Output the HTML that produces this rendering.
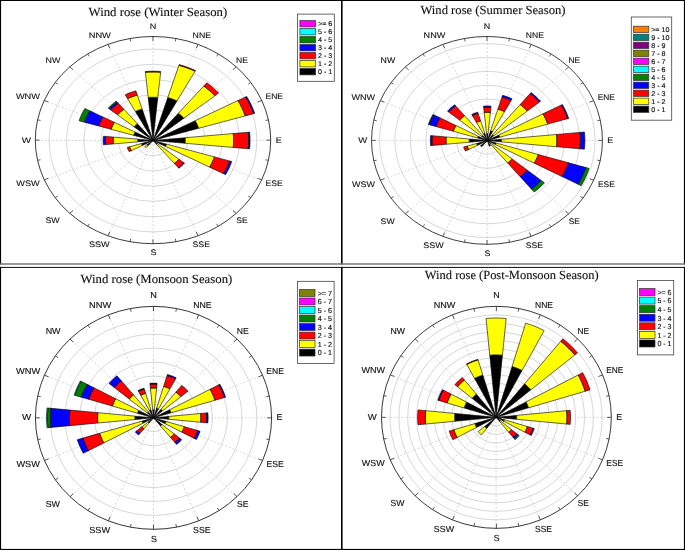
<!DOCTYPE html>
<html><head><meta charset="utf-8"><title>Wind roses</title>
<style>
html,body{margin:0;padding:0;background:#fff;}
body{width:685px;height:550px;overflow:hidden;}
svg{display:block;}
text{text-rendering:geometricPrecision;}
.ring{fill:none;stroke:#cdcdcd;stroke-width:0.8;}
.rad{stroke:#cacaca;stroke-width:0.75;stroke-dasharray:1.9 1.9;}
.outer{fill:none;stroke:#1a1a1a;stroke-width:0.85;}
.tick{stroke:#222;stroke-width:0.75;}
.bar{stroke:#000;stroke-width:0.6;stroke-linejoin:miter;}
.lab{font-family:"Liberation Sans",sans-serif;font-size:8.1px;fill:#111;stroke:#111;stroke-width:0.12;}
.title{font-family:"Liberation Serif",serif;font-size:12.4px;fill:#111;stroke:#111;stroke-width:0.12;}
.lbox{fill:#fff;stroke:#444;stroke-width:0.8;}
.sw{stroke:#333;stroke-width:0.7;}
.lt{font-family:"Liberation Sans",sans-serif;fill:#111;stroke:#111;stroke-width:0.15;}
</style></head><body>
<svg width="685" height="550" viewBox="0 0 685 550">
<rect x="0" y="0" width="685" height="550" fill="#fff"/>
<g opacity="0.999">
<g transform="translate(153,140.1) scale(1.0000,1.0000)">
<g transform="translate(0,0.4)">
<ellipse rx="17.31" ry="15.24" class="ring"/>
<ellipse rx="34.62" ry="30.47" class="ring"/>
<ellipse rx="51.93" ry="45.71" class="ring"/>
<ellipse rx="69.24" ry="60.94" class="ring"/>
<ellipse rx="86.54" ry="76.18" class="ring"/>
<ellipse rx="103.85" ry="91.41" class="ring"/>
<line x1="0" y1="0" x2="0" y2="-103.6" class="rad"/>
<line x1="0" y1="0" x2="45.04" y2="-95.71" class="rad"/>
<line x1="0" y1="0" x2="83.23" y2="-73.26" class="rad"/>
<line x1="0" y1="0" x2="108.74" y2="-39.65" class="rad"/>
<line x1="0" y1="0" x2="117.7" y2="-0" class="rad"/>
<line x1="0" y1="0" x2="108.74" y2="39.65" class="rad"/>
<line x1="0" y1="0" x2="83.23" y2="73.26" class="rad"/>
<line x1="0" y1="0" x2="45.04" y2="95.71" class="rad"/>
<line x1="0" y1="0" x2="0" y2="103.6" class="rad"/>
<line x1="0" y1="0" x2="-45.04" y2="95.71" class="rad"/>
<line x1="0" y1="0" x2="-83.23" y2="73.26" class="rad"/>
<line x1="0" y1="0" x2="-108.74" y2="39.65" class="rad"/>
<line x1="0" y1="0" x2="-117.7" y2="0" class="rad"/>
<line x1="0" y1="0" x2="-108.74" y2="-39.65" class="rad"/>
<line x1="0" y1="0" x2="-83.23" y2="-73.26" class="rad"/>
<line x1="0" y1="0" x2="-45.04" y2="-95.71" class="rad"/>
</g>
<ellipse rx="117.7" ry="103.6" class="outer"/>
<line x1="0" y1="-103.6" x2="0" y2="-99.3" class="tick"/>
<line x1="22.96" y1="-101.61" x2="22.3" y2="-98.68" class="tick"/>
<line x1="45.04" y1="-95.71" x2="43.21" y2="-91.82" class="tick"/>
<line x1="65.39" y1="-86.14" x2="63.58" y2="-83.75" class="tick"/>
<line x1="83.23" y1="-73.26" x2="80" y2="-70.42" class="tick"/>
<line x1="97.86" y1="-57.56" x2="95.28" y2="-56.04" class="tick"/>
<line x1="108.74" y1="-39.65" x2="104.7" y2="-38.17" class="tick"/>
<line x1="115.44" y1="-20.21" x2="112.48" y2="-19.69" class="tick"/>
<line x1="117.7" y1="-0" x2="113.4" y2="-0" class="tick"/>
<line x1="115.44" y1="20.21" x2="112.48" y2="19.69" class="tick"/>
<line x1="108.74" y1="39.65" x2="104.7" y2="38.17" class="tick"/>
<line x1="97.86" y1="57.56" x2="95.28" y2="56.04" class="tick"/>
<line x1="83.23" y1="73.26" x2="80" y2="70.42" class="tick"/>
<line x1="65.39" y1="86.14" x2="63.58" y2="83.75" class="tick"/>
<line x1="45.04" y1="95.71" x2="43.21" y2="91.82" class="tick"/>
<line x1="22.96" y1="101.61" x2="22.3" y2="98.68" class="tick"/>
<line x1="0" y1="103.6" x2="0" y2="99.3" class="tick"/>
<line x1="-22.96" y1="101.61" x2="-22.3" y2="98.68" class="tick"/>
<line x1="-45.04" y1="95.71" x2="-43.21" y2="91.82" class="tick"/>
<line x1="-65.39" y1="86.14" x2="-63.58" y2="83.75" class="tick"/>
<line x1="-83.23" y1="73.26" x2="-80" y2="70.42" class="tick"/>
<line x1="-97.86" y1="57.56" x2="-95.28" y2="56.04" class="tick"/>
<line x1="-108.74" y1="39.65" x2="-104.7" y2="38.17" class="tick"/>
<line x1="-115.44" y1="20.21" x2="-112.48" y2="19.69" class="tick"/>
<line x1="-117.7" y1="0" x2="-113.4" y2="0" class="tick"/>
<line x1="-115.44" y1="-20.21" x2="-112.48" y2="-19.69" class="tick"/>
<line x1="-108.74" y1="-39.65" x2="-104.7" y2="-38.17" class="tick"/>
<line x1="-97.86" y1="-57.56" x2="-95.28" y2="-56.04" class="tick"/>
<line x1="-83.23" y1="-73.26" x2="-80" y2="-70.42" class="tick"/>
<line x1="-65.39" y1="-86.14" x2="-63.58" y2="-83.75" class="tick"/>
<line x1="-45.04" y1="-95.71" x2="-43.21" y2="-91.82" class="tick"/>
<line x1="-22.96" y1="-101.61" x2="-22.3" y2="-98.68" class="tick"/>
<g transform="translate(0,0.4)">
<polygon points="-4.82,-43.06 -2.41,-43.22 0,-43.27 2.41,-43.22 4.82,-43.06 0,0" fill="#000000" class="bar"/>
<polygon points="-7.63,-68.23 -3.82,-68.48 0,-68.56 3.82,-68.48 7.63,-68.23 4.82,-43.06 2.41,-43.22 0,-43.27 -2.41,-43.22 -4.82,-43.06" fill="#ffff00" class="bar"/>
<polygon points="-7.72,-68.99 -3.86,-69.24 0,-69.32 3.86,-69.24 7.72,-68.99 7.63,-68.23 3.82,-68.48 0,-68.56 -3.82,-68.48 -7.63,-68.23" fill="#ff0000" class="bar"/>
<polygon points="14.8,-42.93 17.17,-42.24 19.5,-41.45 21.79,-40.56 24.03,-39.57 0,0" fill="#000000" class="bar"/>
<polygon points="25.9,-75.17 30.06,-73.96 34.15,-72.57 38.15,-71.01 42.07,-69.27 24.03,-39.57 21.79,-40.56 19.5,-41.45 17.17,-42.24 14.8,-42.93" fill="#ffff00" class="bar"/>
<polygon points="26.16,-75.9 30.36,-74.68 34.48,-73.28 38.53,-71.7 42.48,-69.95 42.07,-69.27 38.15,-71.01 34.15,-72.57 30.06,-73.96 25.9,-75.17" fill="#ff0000" class="bar"/>
<polygon points="25.38,-27.22 26.87,-26.09 28.29,-24.9 29.64,-23.65 30.93,-22.34 0,0" fill="#000000" class="bar"/>
<polygon points="50.76,-54.45 53.74,-52.19 56.58,-49.8 59.29,-47.3 61.86,-44.68 30.93,-22.34 29.64,-23.65 28.29,-24.9 26.87,-26.09 25.38,-27.22" fill="#ffff00" class="bar"/>
<polygon points="53.85,-57.76 57.01,-55.36 60.03,-52.84 62.9,-50.18 65.62,-47.4 61.86,-44.68 59.29,-47.3 56.58,-49.8 53.74,-52.19 50.76,-54.45" fill="#ff0000" class="bar"/>
<polygon points="42.19,-19.85 43.24,-18 44.2,-16.11 45.04,-14.19 45.78,-12.22 0,0" fill="#000000" class="bar"/>
<polygon points="84.99,-39.99 87.12,-36.27 89.03,-32.46 90.74,-28.58 92.22,-24.62 45.78,-12.22 45.04,-14.19 44.2,-16.11 43.24,-18 42.19,-19.85" fill="#ffff00" class="bar"/>
<polygon points="92.66,-43.6 94.98,-39.54 97.07,-35.39 98.93,-31.16 100.54,-26.85 92.22,-24.62 90.74,-28.58 89.03,-32.46 87.12,-36.27 84.99,-39.99" fill="#ff0000" class="bar"/>
<polygon points="93.74,-44.1 96.08,-40 98.2,-35.8 100.07,-31.52 101.71,-27.16 100.54,-26.85 98.93,-31.16 97.07,-35.39 94.98,-39.54 92.66,-43.6" fill="#0000ff" class="bar"/>
<polygon points="32.21,-2.79 32.33,-1.4 32.37,-0 32.33,1.4 32.21,2.79 0,0" fill="#000000" class="bar"/>
<polygon points="80.27,-6.96 80.56,-3.48 80.66,-0 80.56,3.48 80.27,6.96 32.21,2.79 32.33,1.4 32.37,-0 32.33,-1.4 32.21,-2.79" fill="#ffff00" class="bar"/>
<polygon points="95.26,-8.26 95.6,-4.13 95.72,-0 95.6,4.13 95.26,8.26 80.27,6.96 80.56,3.48 80.66,-0 80.56,-3.48 80.27,-6.96" fill="#ff0000" class="bar"/>
<polygon points="96.63,-8.38 96.99,-4.19 97.1,-0 96.99,4.19 96.63,8.38 95.26,8.26 95.6,4.13 95.72,-0 95.6,-4.13 95.26,-8.26" fill="#0000ff" class="bar"/>
<polygon points="13.65,3.64 13.43,4.23 13.18,4.8 12.89,5.37 12.58,5.92 0,0" fill="#000000" class="bar"/>
<polygon points="61.42,16.4 60.44,19.03 59.3,21.62 58.03,24.16 56.61,26.63 12.58,5.92 12.89,5.37 13.18,4.8 13.43,4.23 13.65,3.64" fill="#ffff00" class="bar"/>
<polygon points="76.57,20.45 75.34,23.73 73.93,26.95 72.34,30.11 70.57,33.2 56.61,26.63 58.03,24.16 59.3,21.62 60.44,19.03 61.42,16.4" fill="#ff0000" class="bar"/>
<polygon points="78.74,21.02 77.47,24.4 76.02,27.72 74.38,30.96 72.56,34.14 70.57,33.2 72.34,30.11 73.93,26.95 75.34,23.73 76.57,20.45" fill="#0000ff" class="bar"/>
<polygon points="4.44,3.21 4.25,3.39 4.06,3.57 3.86,3.74 3.64,3.91 0,0" fill="#000000" class="bar"/>
<polygon points="25.95,18.75 24.88,19.85 23.74,20.9 22.55,21.9 21.3,22.84 3.64,3.91 3.86,3.74 4.06,3.57 4.25,3.39 4.44,3.21" fill="#ffff00" class="bar"/>
<polygon points="30.93,22.34 29.64,23.65 28.29,24.9 26.87,26.09 25.38,27.22 21.3,22.84 22.55,21.9 23.74,20.9 24.88,19.85 25.95,18.75" fill="#ff0000" class="bar"/>
<polygon points="31.47,22.73 30.16,24.06 28.78,25.33 27.34,26.55 25.82,27.7 25.38,27.22 26.87,26.09 28.29,24.9 29.64,23.65 30.93,22.34" fill="#0000ff" class="bar"/>
<polygon points="-4.97,5.33 -5.26,5.11 -5.54,4.87 -5.8,4.63 -6.05,4.37 0,0" fill="#000000" class="bar"/>
<polygon points="-6.84,7.34 -7.24,7.03 -7.63,6.71 -7.99,6.38 -8.34,6.02 -6.05,4.37 -5.8,4.63 -5.54,4.87 -5.26,5.11 -4.97,5.33" fill="#ffff00" class="bar"/>
<polygon points="-10.74,5.05 -11.01,4.58 -11.25,4.1 -11.46,3.61 -11.65,3.11 0,0" fill="#000000" class="bar"/>
<polygon points="-21.63,10.18 -22.17,9.23 -22.66,8.26 -23.09,7.27 -23.47,6.27 -11.65,3.11 -11.46,3.61 -11.25,4.1 -11.01,4.58 -10.74,5.05" fill="#ffff00" class="bar"/>
<polygon points="-23.78,11.19 -24.37,10.15 -24.91,9.08 -25.39,8 -25.8,6.89 -23.47,6.27 -23.09,7.27 -22.66,8.26 -22.17,9.23 -21.63,10.18" fill="#ff0000" class="bar"/>
<polygon points="-15.33,1.33 -15.39,0.67 -15.4,0 -15.39,-0.67 -15.33,-1.33 0,0" fill="#000000" class="bar"/>
<polygon points="-39.62,3.43 -39.76,1.72 -39.81,0 -39.76,-1.72 -39.62,-3.43 -15.33,-1.33 -15.39,-0.67 -15.4,0 -15.39,0.67 -15.33,1.33" fill="#ffff00" class="bar"/>
<polygon points="-47.37,4.11 -47.54,2.06 -47.6,0 -47.54,-2.06 -47.37,-4.11 -39.62,-3.43 -39.76,-1.72 -39.81,0 -39.76,1.72 -39.62,3.43" fill="#ff0000" class="bar"/>
<polygon points="-49.61,4.3 -49.79,2.15 -49.85,0 -49.79,-2.15 -49.61,-4.3 -47.37,-4.11 -47.54,-2.06 -47.6,0 -47.54,2.06 -47.37,4.11" fill="#0000ff" class="bar"/>
<polygon points="-19.48,-5.2 -19.16,-6.04 -18.8,-6.86 -18.4,-7.66 -17.95,-8.44 0,0" fill="#000000" class="bar"/>
<polygon points="-41.95,-11.2 -41.27,-13 -40.5,-14.77 -39.63,-16.5 -38.66,-18.19 -17.95,-8.44 -18.4,-7.66 -18.8,-6.86 -19.16,-6.04 -19.48,-5.2" fill="#ffff00" class="bar"/>
<polygon points="-54.43,-14.53 -53.56,-16.87 -52.55,-19.16 -51.42,-21.41 -50.17,-23.6 -38.66,-18.19 -39.63,-16.5 -40.5,-14.77 -41.27,-13 -41.95,-11.2" fill="#ff0000" class="bar"/>
<polygon points="-68.58,-18.31 -67.48,-21.25 -66.21,-24.14 -64.79,-26.97 -63.21,-29.74 -50.17,-23.6 -51.42,-21.41 -52.55,-19.16 -53.56,-16.87 -54.43,-14.53" fill="#0000ff" class="bar"/>
<polygon points="-73.91,-19.73 -72.72,-22.9 -71.36,-26.02 -69.82,-29.07 -68.12,-32.05 -63.21,-29.74 -64.79,-26.97 -66.21,-24.14 -67.48,-21.25 -68.58,-18.31" fill="#008000" class="bar"/>
<polygon points="-19.09,-13.79 -18.3,-14.6 -17.47,-15.37 -16.59,-16.11 -15.67,-16.81 0,0" fill="#000000" class="bar"/>
<polygon points="-35.5,-25.64 -34.03,-27.15 -32.47,-28.58 -30.84,-29.95 -29.13,-31.25 -15.67,-16.81 -16.59,-16.11 -17.47,-15.37 -18.3,-14.6 -19.09,-13.79" fill="#ffff00" class="bar"/>
<polygon points="-42.36,-30.6 -40.6,-32.39 -38.75,-34.1 -36.8,-35.74 -34.76,-37.28 -29.13,-31.25 -30.84,-29.95 -32.47,-28.58 -34.03,-27.15 -35.5,-25.64" fill="#ff0000" class="bar"/>
<polygon points="-43.84,-31.67 -42.02,-33.52 -40.1,-35.3 -38.08,-36.98 -35.98,-38.59 -34.76,-37.28 -36.8,-35.74 -38.75,-34.1 -40.6,-32.39 -42.36,-30.6" fill="#0000ff" class="bar"/>
<polygon points="-44.78,-32.35 -42.92,-34.24 -40.96,-36.05 -38.9,-37.78 -36.75,-39.41 -35.98,-38.59 -38.08,-36.98 -40.1,-35.3 -42.02,-33.52 -43.84,-31.67" fill="#008000" class="bar"/>
<polygon points="-17.63,-29.03 -15.99,-29.76 -14.31,-30.41 -12.6,-31 -10.86,-31.5 0,0" fill="#000000" class="bar"/>
<polygon points="-25.42,-41.86 -23.06,-42.91 -20.64,-43.85 -18.17,-44.69 -15.65,-45.42 -10.86,-31.5 -12.6,-31 -14.31,-30.41 -15.99,-29.76 -17.63,-29.03" fill="#ffff00" class="bar"/>
<polygon points="-27.8,-45.78 -25.21,-46.92 -22.57,-47.95 -19.87,-48.87 -17.12,-49.67 -15.65,-45.42 -18.17,-44.69 -20.64,-43.85 -23.06,-42.91 -25.42,-41.86" fill="#ff0000" class="bar"/>
</g>
<text x="0.1" y="-111.6" text-anchor="middle" class="lab" textLength="6.6" lengthAdjust="spacingAndGlyphs">N</text>
<text x="39.6" y="-102.2" text-anchor="start" class="lab" textLength="18.4" lengthAdjust="spacingAndGlyphs">NNE</text>
<text x="83.1" y="-77.5" text-anchor="start" class="lab" textLength="11.9" lengthAdjust="spacingAndGlyphs">NE</text>
<text x="112.5" y="-40.9" text-anchor="start" class="lab" textLength="17.5" lengthAdjust="spacingAndGlyphs">ENE</text>
<text x="122.7" y="2.4" text-anchor="start" class="lab" textLength="6" lengthAdjust="spacingAndGlyphs">E</text>
<text x="112.6" y="45.9" text-anchor="start" class="lab" textLength="17.2" lengthAdjust="spacingAndGlyphs">ESE</text>
<text x="83.25" y="82.55" text-anchor="start" class="lab" textLength="11.4" lengthAdjust="spacingAndGlyphs">SE</text>
<text x="39.5" y="107.4" text-anchor="start" class="lab" textLength="17.5" lengthAdjust="spacingAndGlyphs">SSE</text>
<text x="0.4" y="115.2" text-anchor="middle" class="lab" textLength="6" lengthAdjust="spacingAndGlyphs">S</text>
<text x="-43.3" y="107" text-anchor="end" class="lab" textLength="20.8" lengthAdjust="spacingAndGlyphs">SSW</text>
<text x="-93.25" y="82.5" text-anchor="end" class="lab" textLength="14.3" lengthAdjust="spacingAndGlyphs">SW</text>
<text x="-113.3" y="45.8" text-anchor="end" class="lab" textLength="23.4" lengthAdjust="spacingAndGlyphs">WSW</text>
<text x="-122" y="2.4" text-anchor="end" class="lab" textLength="9.2" lengthAdjust="spacingAndGlyphs">W</text>
<text x="-113" y="-40.9" text-anchor="end" class="lab" textLength="24.1" lengthAdjust="spacingAndGlyphs">WNW</text>
<text x="-92.7" y="-77.6" text-anchor="end" class="lab" textLength="14.85" lengthAdjust="spacingAndGlyphs">NW</text>
<text x="-42.1" y="-101.9" text-anchor="end" class="lab" textLength="22.2" lengthAdjust="spacingAndGlyphs">NNW</text>
</g>
<text x="88.6" y="15.9" class="title" textLength="138.6" lengthAdjust="spacingAndGlyphs">Wind rose (Winter Season)</text>
<rect x="297.5" y="14.1" width="36.8" height="67.2" class="lbox"/>
<rect x="299.9" y="20.5" width="15.7" height="6.4" fill="#ff00ff" class="sw"/>
<text x="318" y="26.2" class="lt" style="font-size:6.9px" transform="translate(318,0) scale(1.04,1) translate(-318,0)">&gt;= 6</text>
<rect x="299.9" y="28.5" width="15.7" height="6.4" fill="#00ffff" class="sw"/>
<text x="318" y="34.2" class="lt" style="font-size:6.9px" transform="translate(318,0) scale(1.04,1) translate(-318,0)">5 - 6</text>
<rect x="299.9" y="36.5" width="15.7" height="6.4" fill="#008000" class="sw"/>
<text x="318" y="42.2" class="lt" style="font-size:6.9px" transform="translate(318,0) scale(1.04,1) translate(-318,0)">4 - 5</text>
<rect x="299.9" y="44.5" width="15.7" height="6.4" fill="#0000ff" class="sw"/>
<text x="318" y="50.2" class="lt" style="font-size:6.9px" transform="translate(318,0) scale(1.04,1) translate(-318,0)">3 - 4</text>
<rect x="299.9" y="52.5" width="15.7" height="6.4" fill="#ff0000" class="sw"/>
<text x="318" y="58.2" class="lt" style="font-size:6.9px" transform="translate(318,0) scale(1.04,1) translate(-318,0)">2 - 3</text>
<rect x="299.9" y="60.5" width="15.7" height="6.4" fill="#ffff00" class="sw"/>
<text x="318" y="66.2" class="lt" style="font-size:6.9px" transform="translate(318,0) scale(1.04,1) translate(-318,0)">1 - 2</text>
<rect x="299.9" y="68.5" width="15.7" height="6.4" fill="#000000" class="sw"/>
<text x="318" y="74.2" class="lt" style="font-size:6.9px" transform="translate(318,0) scale(1.04,1) translate(-318,0)">0 - 1</text>
<g transform="translate(487,140.4) scale(0.9809,1.0029)">
<g transform="translate(0.3,0.2)">
<ellipse rx="15.69" ry="13.81" class="ring"/>
<ellipse rx="31.39" ry="27.63" class="ring"/>
<ellipse rx="47.08" ry="41.44" class="ring"/>
<ellipse rx="62.77" ry="55.25" class="ring"/>
<ellipse rx="78.47" ry="69.07" class="ring"/>
<ellipse rx="94.16" ry="82.88" class="ring"/>
<ellipse rx="109.85" ry="96.69" class="ring"/>
<line x1="0" y1="0" x2="0" y2="-103.6" class="rad"/>
<line x1="0" y1="0" x2="45.04" y2="-95.71" class="rad"/>
<line x1="0" y1="0" x2="83.23" y2="-73.26" class="rad"/>
<line x1="0" y1="0" x2="108.74" y2="-39.65" class="rad"/>
<line x1="0" y1="0" x2="117.7" y2="-0" class="rad"/>
<line x1="0" y1="0" x2="108.74" y2="39.65" class="rad"/>
<line x1="0" y1="0" x2="83.23" y2="73.26" class="rad"/>
<line x1="0" y1="0" x2="45.04" y2="95.71" class="rad"/>
<line x1="0" y1="0" x2="0" y2="103.6" class="rad"/>
<line x1="0" y1="0" x2="-45.04" y2="95.71" class="rad"/>
<line x1="0" y1="0" x2="-83.23" y2="73.26" class="rad"/>
<line x1="0" y1="0" x2="-108.74" y2="39.65" class="rad"/>
<line x1="0" y1="0" x2="-117.7" y2="0" class="rad"/>
<line x1="0" y1="0" x2="-108.74" y2="-39.65" class="rad"/>
<line x1="0" y1="0" x2="-83.23" y2="-73.26" class="rad"/>
<line x1="0" y1="0" x2="-45.04" y2="-95.71" class="rad"/>
</g>
<ellipse rx="117.7" ry="103.6" class="outer"/>
<line x1="0" y1="-103.6" x2="0" y2="-99.3" class="tick"/>
<line x1="22.96" y1="-101.61" x2="22.3" y2="-98.68" class="tick"/>
<line x1="45.04" y1="-95.71" x2="43.21" y2="-91.82" class="tick"/>
<line x1="65.39" y1="-86.14" x2="63.58" y2="-83.75" class="tick"/>
<line x1="83.23" y1="-73.26" x2="80" y2="-70.42" class="tick"/>
<line x1="97.86" y1="-57.56" x2="95.28" y2="-56.04" class="tick"/>
<line x1="108.74" y1="-39.65" x2="104.7" y2="-38.17" class="tick"/>
<line x1="115.44" y1="-20.21" x2="112.48" y2="-19.69" class="tick"/>
<line x1="117.7" y1="-0" x2="113.4" y2="-0" class="tick"/>
<line x1="115.44" y1="20.21" x2="112.48" y2="19.69" class="tick"/>
<line x1="108.74" y1="39.65" x2="104.7" y2="38.17" class="tick"/>
<line x1="97.86" y1="57.56" x2="95.28" y2="56.04" class="tick"/>
<line x1="83.23" y1="73.26" x2="80" y2="70.42" class="tick"/>
<line x1="65.39" y1="86.14" x2="63.58" y2="83.75" class="tick"/>
<line x1="45.04" y1="95.71" x2="43.21" y2="91.82" class="tick"/>
<line x1="22.96" y1="101.61" x2="22.3" y2="98.68" class="tick"/>
<line x1="0" y1="103.6" x2="0" y2="99.3" class="tick"/>
<line x1="-22.96" y1="101.61" x2="-22.3" y2="98.68" class="tick"/>
<line x1="-45.04" y1="95.71" x2="-43.21" y2="91.82" class="tick"/>
<line x1="-65.39" y1="86.14" x2="-63.58" y2="83.75" class="tick"/>
<line x1="-83.23" y1="73.26" x2="-80" y2="70.42" class="tick"/>
<line x1="-97.86" y1="57.56" x2="-95.28" y2="56.04" class="tick"/>
<line x1="-108.74" y1="39.65" x2="-104.7" y2="38.17" class="tick"/>
<line x1="-115.44" y1="20.21" x2="-112.48" y2="19.69" class="tick"/>
<line x1="-117.7" y1="0" x2="-113.4" y2="0" class="tick"/>
<line x1="-115.44" y1="-20.21" x2="-112.48" y2="-19.69" class="tick"/>
<line x1="-108.74" y1="-39.65" x2="-104.7" y2="-38.17" class="tick"/>
<line x1="-97.86" y1="-57.56" x2="-95.28" y2="-56.04" class="tick"/>
<line x1="-83.23" y1="-73.26" x2="-80" y2="-70.42" class="tick"/>
<line x1="-65.39" y1="-86.14" x2="-63.58" y2="-83.75" class="tick"/>
<line x1="-45.04" y1="-95.71" x2="-43.21" y2="-91.82" class="tick"/>
<line x1="-22.96" y1="-101.61" x2="-22.3" y2="-98.68" class="tick"/>
<g transform="translate(0.3,0.2)">
<polygon points="-0.78,-7.01 -0.39,-7.04 0,-7.04 0.39,-7.04 0.78,-7.01 0,0" fill="#000000" class="bar"/>
<polygon points="-3.14,-28.04 -1.57,-28.15 0,-28.18 1.57,-28.15 3.14,-28.04 0.78,-7.01 0.39,-7.04 0,-7.04 -0.39,-7.04 -0.78,-7.01" fill="#ffff00" class="bar"/>
<polygon points="-3.71,-33.13 -1.86,-33.25 0,-33.29 1.86,-33.25 3.71,-33.13 3.14,-28.04 1.57,-28.15 0,-28.18 -1.57,-28.15 -3.14,-28.04" fill="#ff0000" class="bar"/>
<polygon points="-3.85,-34.37 -1.93,-34.49 0,-34.53 1.93,-34.49 3.85,-34.37 3.71,-33.13 1.86,-33.25 0,-33.29 -1.86,-33.25 -3.71,-33.13" fill="#1010a0" class="bar"/>
<polygon points="3.39,-9.83 3.93,-9.67 4.47,-9.49 4.99,-9.29 5.5,-9.06 0,0" fill="#000000" class="bar"/>
<polygon points="10.8,-31.35 12.54,-30.85 14.24,-30.27 15.91,-29.62 17.55,-28.89 5.5,-9.06 4.99,-9.29 4.47,-9.49 3.93,-9.67 3.39,-9.83" fill="#ffff00" class="bar"/>
<polygon points="14.97,-43.44 17.37,-42.74 19.74,-41.94 22.05,-41.04 24.31,-40.04 17.55,-28.89 15.91,-29.62 14.24,-30.27 12.54,-30.85 10.8,-31.35" fill="#ff0000" class="bar"/>
<polygon points="15.57,-45.17 18.07,-44.44 20.52,-43.61 22.93,-42.67 25.28,-41.63 24.31,-40.04 22.05,-41.04 19.74,-41.94 17.37,-42.74 14.97,-43.44" fill="#0000ff" class="bar"/>
<polygon points="5.5,-5.9 5.83,-5.66 6.13,-5.4 6.43,-5.13 6.71,-4.84 0,0" fill="#000000" class="bar"/>
<polygon points="33.52,-35.95 35.48,-34.46 37.36,-32.88 39.15,-31.23 40.84,-29.5 6.71,-4.84 6.43,-5.13 6.13,-5.4 5.83,-5.66 5.5,-5.9" fill="#ffff00" class="bar"/>
<polygon points="43.72,-46.9 46.29,-44.95 48.74,-42.9 51.07,-40.74 53.28,-38.49 40.84,-29.5 39.15,-31.23 37.36,-32.88 35.48,-34.46 33.52,-35.95" fill="#ff0000" class="bar"/>
<polygon points="44.62,-47.86 47.24,-45.88 49.74,-43.78 52.12,-41.58 54.38,-39.28 53.28,-38.49 51.07,-40.74 48.74,-42.9 46.29,-44.95 43.72,-46.9" fill="#0000ff" class="bar"/>
<polygon points="11.82,-5.56 12.12,-5.05 12.39,-4.52 12.62,-3.98 12.83,-3.43 0,0" fill="#000000" class="bar"/>
<polygon points="56.75,-26.7 58.17,-24.22 59.45,-21.68 60.59,-19.08 61.58,-16.44 12.83,-3.43 12.62,-3.98 12.39,-4.52 12.12,-5.05 11.82,-5.56" fill="#ffff00" class="bar"/>
<polygon points="75.53,-35.53 77.42,-32.23 79.12,-28.85 80.63,-25.4 81.95,-21.88 61.58,-16.44 60.59,-19.08 59.45,-21.68 58.17,-24.22 56.75,-26.7" fill="#ff0000" class="bar"/>
<polygon points="76.5,-35.99 78.42,-32.65 80.14,-29.22 81.67,-25.72 83.01,-22.16 81.95,-21.88 80.63,-25.4 79.12,-28.85 77.42,-32.23 75.53,-35.53" fill="#0000ff" class="bar"/>
<polygon points="14.37,-1.25 14.42,-0.62 14.44,-0 14.42,0.62 14.37,1.25 0,0" fill="#000000" class="bar"/>
<polygon points="70.59,-6.12 70.85,-3.06 70.93,-0 70.85,3.06 70.59,6.12 14.37,1.25 14.42,0.62 14.44,-0 14.42,-0.62 14.37,-1.25" fill="#ffff00" class="bar"/>
<polygon points="94.49,-8.19 94.83,-4.1 94.94,-0 94.83,4.1 94.49,8.19 70.59,6.12 70.85,3.06 70.93,-0 70.85,-3.06 70.59,-6.12" fill="#ff0000" class="bar"/>
<polygon points="99.02,-8.58 99.38,-4.3 99.5,-0 99.38,4.3 99.02,8.58 94.49,8.19 94.83,4.1 94.94,-0 94.83,-4.1 94.49,-8.19" fill="#0000ff" class="bar"/>
<polygon points="9.06,2.42 8.91,2.81 8.74,3.19 8.55,3.56 8.35,3.93 0,0" fill="#000000" class="bar"/>
<polygon points="51.92,13.86 51.08,16.09 50.13,18.28 49.05,20.42 47.85,22.51 8.35,3.93 8.55,3.56 8.74,3.19 8.91,2.81 9.06,2.42" fill="#ffff00" class="bar"/>
<polygon points="82.71,22.08 81.38,25.63 79.85,29.11 78.13,32.53 76.22,35.86 47.85,22.51 49.05,20.42 50.13,18.28 51.08,16.09 51.92,13.86" fill="#ff0000" class="bar"/>
<polygon points="100.52,26.84 98.9,31.15 97.04,35.38 94.96,39.53 92.64,43.58 76.22,35.86 78.13,32.53 79.85,29.11 81.38,25.63 82.71,22.08" fill="#0000ff" class="bar"/>
<polygon points="103.84,27.73 102.17,32.18 100.25,36.55 98.09,40.84 95.7,45.02 92.64,43.58 94.96,39.53 97.04,35.38 98.9,31.15 100.52,26.84" fill="#008000" class="bar"/>
<polygon points="3.66,2.64 3.51,2.8 3.35,2.94 3.18,3.09 3,3.22 0,0" fill="#000000" class="bar"/>
<polygon points="25.36,18.32 24.31,19.39 23.2,20.42 22.03,21.4 20.81,22.32 3,3.22 3.18,3.09 3.35,2.94 3.51,2.8 3.66,2.64" fill="#ffff00" class="bar"/>
<polygon points="40.84,29.5 39.15,31.23 37.36,32.88 35.48,34.46 33.52,35.95 20.81,22.32 22.03,21.4 23.2,20.42 24.31,19.39 25.36,18.32" fill="#ff0000" class="bar"/>
<polygon points="54.98,39.72 52.7,42.05 50.3,44.27 47.77,46.39 45.12,48.4 33.52,35.95 35.48,34.46 37.36,32.88 39.15,31.23 40.84,29.5" fill="#0000ff" class="bar"/>
<polygon points="58.28,42.1 55.86,44.56 53.31,46.92 50.63,49.17 47.83,51.3 45.12,48.4 47.77,46.39 50.3,44.27 52.7,42.05 54.98,39.72" fill="#008000" class="bar"/>
<polygon points="3.2,5.26 2.9,5.4 2.6,5.52 2.28,5.62 1.97,5.71 0,0" fill="#000000" class="bar"/>
<polygon points="-5.7,6.12 -6.04,5.86 -6.36,5.6 -6.66,5.31 -6.95,5.02 0,0" fill="#000000" class="bar"/>
<polygon points="-10.15,4.78 -10.41,4.33 -10.64,3.88 -10.84,3.41 -11.02,2.94 0,0" fill="#000000" class="bar"/>
<polygon points="-18.92,8.9 -19.39,8.07 -19.82,7.23 -20.2,6.36 -20.53,5.48 -11.02,2.94 -10.84,3.41 -10.64,3.88 -10.41,4.33 -10.15,4.78" fill="#ffff00" class="bar"/>
<polygon points="-22.26,10.47 -22.81,9.5 -23.31,8.5 -23.76,7.48 -24.15,6.45 -20.53,5.48 -20.2,6.36 -19.82,7.23 -19.39,8.07 -18.92,8.9" fill="#ff0000" class="bar"/>
<polygon points="-18.43,1.6 -18.5,0.8 -18.52,0 -18.5,-0.8 -18.43,-1.6 0,0" fill="#000000" class="bar"/>
<polygon points="-41.86,3.63 -42.01,1.82 -42.06,0 -42.01,-1.82 -41.86,-3.63 -18.43,-1.6 -18.5,-0.8 -18.52,0 -18.5,0.8 -18.43,1.6" fill="#ffff00" class="bar"/>
<polygon points="-56.07,4.86 -56.27,2.43 -56.34,0 -56.27,-2.43 -56.07,-4.86 -41.86,-3.63 -42.01,-1.82 -42.06,0 -42.01,1.82 -41.86,3.63" fill="#ff0000" class="bar"/>
<polygon points="-57.79,5.01 -58,2.51 -58.07,0 -58,-2.51 -57.79,-5.01 -56.07,-4.86 -56.27,-2.43 -56.34,0 -56.27,2.43 -56.07,4.86" fill="#0000ff" class="bar"/>
<polygon points="-10.11,-2.7 -9.95,-3.13 -9.76,-3.56 -9.55,-3.98 -9.32,-4.38 0,0" fill="#000000" class="bar"/>
<polygon points="-34.71,-9.27 -34.15,-10.76 -33.51,-12.22 -32.79,-13.65 -31.99,-15.05 -9.32,-4.38 -9.55,-3.98 -9.76,-3.56 -9.95,-3.13 -10.11,-2.7" fill="#ffff00" class="bar"/>
<polygon points="-52.37,-13.98 -51.53,-16.23 -50.56,-18.43 -49.47,-20.6 -48.27,-22.71 -31.99,-15.05 -32.79,-13.65 -33.51,-12.22 -34.15,-10.76 -34.71,-9.27" fill="#ff0000" class="bar"/>
<polygon points="-59.31,-15.84 -58.36,-18.38 -57.26,-20.88 -56.03,-23.33 -54.66,-25.72 -48.27,-22.71 -49.47,-20.6 -50.56,-18.43 -51.53,-16.23 -52.37,-13.98" fill="#0000ff" class="bar"/>
<polygon points="-60.07,-16.04 -59.1,-18.61 -57.99,-21.14 -56.75,-23.62 -55.36,-26.05 -54.66,-25.72 -56.03,-23.33 -57.26,-20.88 -58.36,-18.38 -59.31,-15.84" fill="#008000" class="bar"/>
<polygon points="-5.85,-4.23 -5.61,-4.47 -5.35,-4.71 -5.08,-4.94 -4.8,-5.15 0,0" fill="#000000" class="bar"/>
<polygon points="-28.28,-20.43 -27.11,-21.63 -25.87,-22.77 -24.57,-23.86 -23.21,-24.9 -4.8,-5.15 -5.08,-4.94 -5.35,-4.71 -5.61,-4.47 -5.85,-4.23" fill="#ffff00" class="bar"/>
<polygon points="-39.38,-28.45 -37.75,-30.11 -36.02,-31.71 -34.21,-33.22 -32.32,-34.66 -23.21,-24.9 -24.57,-23.86 -25.87,-22.77 -27.11,-21.63 -28.28,-20.43" fill="#ff0000" class="bar"/>
<polygon points="-40.6,-29.33 -38.91,-31.05 -37.14,-32.69 -35.27,-34.25 -33.32,-35.74 -32.32,-34.66 -34.21,-33.22 -36.02,-31.71 -37.75,-30.11 -39.38,-28.45" fill="#0000ff" class="bar"/>
<polygon points="-4.09,-6.73 -3.71,-6.9 -3.32,-7.05 -2.92,-7.19 -2.52,-7.31 0,0" fill="#000000" class="bar"/>
<polygon points="-11,-18.12 -9.98,-18.57 -8.93,-18.98 -7.86,-19.34 -6.78,-19.66 -2.52,-7.31 -2.92,-7.19 -3.32,-7.05 -3.71,-6.9 -4.09,-6.73" fill="#ffff00" class="bar"/>
<polygon points="-15.24,-25.1 -13.82,-25.73 -12.37,-26.29 -10.89,-26.8 -9.39,-27.23 -6.78,-19.66 -7.86,-19.34 -8.93,-18.98 -9.98,-18.57 -11,-18.12" fill="#ff0000" class="bar"/>
<polygon points="-15.84,-26.08 -14.36,-26.73 -12.86,-27.32 -11.32,-27.84 -9.75,-28.3 -9.39,-27.23 -10.89,-26.8 -12.37,-26.29 -13.82,-25.73 -15.24,-25.1" fill="#101070" class="bar"/>
</g>
<text x="0.1" y="-111.4" text-anchor="middle" class="lab" textLength="6.6" lengthAdjust="spacingAndGlyphs">N</text>
<text x="39.6" y="-102.2" text-anchor="start" class="lab" textLength="18.4" lengthAdjust="spacingAndGlyphs">NNE</text>
<text x="83.1" y="-77" text-anchor="start" class="lab" textLength="11.9" lengthAdjust="spacingAndGlyphs">NE</text>
<text x="112.91" y="-40.25" text-anchor="start" class="lab" textLength="17.5" lengthAdjust="spacingAndGlyphs">ENE</text>
<text x="122.7" y="2.4" text-anchor="start" class="lab" textLength="6" lengthAdjust="spacingAndGlyphs">E</text>
<text x="113.11" y="46.9" text-anchor="start" class="lab" textLength="17.2" lengthAdjust="spacingAndGlyphs">ESE</text>
<text x="83.25" y="83.25" text-anchor="start" class="lab" textLength="11.4" lengthAdjust="spacingAndGlyphs">SE</text>
<text x="39.5" y="107.7" text-anchor="start" class="lab" textLength="17.5" lengthAdjust="spacingAndGlyphs">SSE</text>
<text x="0.4" y="115.2" text-anchor="middle" class="lab" textLength="6" lengthAdjust="spacingAndGlyphs">S</text>
<text x="-44.22" y="107.3" text-anchor="end" class="lab" textLength="20.8" lengthAdjust="spacingAndGlyphs">SSW</text>
<text x="-94.17" y="83.2" text-anchor="end" class="lab" textLength="14.3" lengthAdjust="spacingAndGlyphs">SW</text>
<text x="-114.32" y="46.8" text-anchor="end" class="lab" textLength="23.4" lengthAdjust="spacingAndGlyphs">WSW</text>
<text x="-122" y="2.4" text-anchor="end" class="lab" textLength="9.2" lengthAdjust="spacingAndGlyphs">W</text>
<text x="-114.02" y="-40.25" text-anchor="end" class="lab" textLength="24.1" lengthAdjust="spacingAndGlyphs">WNW</text>
<text x="-93.62" y="-77.1" text-anchor="end" class="lab" textLength="14.85" lengthAdjust="spacingAndGlyphs">NW</text>
<text x="-42.41" y="-101.9" text-anchor="end" class="lab" textLength="22.2" lengthAdjust="spacingAndGlyphs">NNW</text>
</g>
<text x="420.4" y="13.7" class="title" textLength="145.1" lengthAdjust="spacingAndGlyphs">Wind rose (Summer Season)</text>
<rect x="631.3" y="17" width="40.4" height="103.2" class="lbox"/>
<rect x="633.5" y="26.2" width="15.3" height="6.3" fill="#ff8000" class="sw"/>
<text x="651.2" y="31.8" class="lt" style="font-size:6.9px" transform="translate(651.2,0) scale(1.04,1) translate(-651.2,0)">&gt;= 10</text>
<rect x="633.5" y="34.19" width="15.3" height="6.3" fill="#008080" class="sw"/>
<text x="651.2" y="39.79" class="lt" style="font-size:6.9px" transform="translate(651.2,0) scale(1.04,1) translate(-651.2,0)">9 - 10</text>
<rect x="633.5" y="42.18" width="15.3" height="6.3" fill="#800080" class="sw"/>
<text x="651.2" y="47.78" class="lt" style="font-size:6.9px" transform="translate(651.2,0) scale(1.04,1) translate(-651.2,0)">8 - 9</text>
<rect x="633.5" y="50.17" width="15.3" height="6.3" fill="#808000" class="sw"/>
<text x="651.2" y="55.77" class="lt" style="font-size:6.9px" transform="translate(651.2,0) scale(1.04,1) translate(-651.2,0)">7 - 8</text>
<rect x="633.5" y="58.16" width="15.3" height="6.3" fill="#ff00ff" class="sw"/>
<text x="651.2" y="63.76" class="lt" style="font-size:6.9px" transform="translate(651.2,0) scale(1.04,1) translate(-651.2,0)">6 - 7</text>
<rect x="633.5" y="66.15" width="15.3" height="6.3" fill="#00ffff" class="sw"/>
<text x="651.2" y="71.75" class="lt" style="font-size:6.9px" transform="translate(651.2,0) scale(1.04,1) translate(-651.2,0)">5 - 6</text>
<rect x="633.5" y="74.14" width="15.3" height="6.3" fill="#008000" class="sw"/>
<text x="651.2" y="79.74" class="lt" style="font-size:6.9px" transform="translate(651.2,0) scale(1.04,1) translate(-651.2,0)">4 - 5</text>
<rect x="633.5" y="82.13" width="15.3" height="6.3" fill="#0000ff" class="sw"/>
<text x="651.2" y="87.73" class="lt" style="font-size:6.9px" transform="translate(651.2,0) scale(1.04,1) translate(-651.2,0)">3 - 4</text>
<rect x="633.5" y="90.12" width="15.3" height="6.3" fill="#ff0000" class="sw"/>
<text x="651.2" y="95.72" class="lt" style="font-size:6.9px" transform="translate(651.2,0) scale(1.04,1) translate(-651.2,0)">2 - 3</text>
<rect x="633.5" y="98.11" width="15.3" height="6.3" fill="#ffff00" class="sw"/>
<text x="651.2" y="103.71" class="lt" style="font-size:6.9px" transform="translate(651.2,0) scale(1.04,1) translate(-651.2,0)">1 - 2</text>
<rect x="633.5" y="106.1" width="15.3" height="6.3" fill="#000000" class="sw"/>
<text x="651.2" y="111.7" class="lt" style="font-size:6.9px" transform="translate(651.2,0) scale(1.04,1) translate(-651.2,0)">0 - 1</text>
<g transform="translate(153.5,417.85) scale(1.0030,1.0758)">
<g transform="translate(0,0)">
<ellipse rx="14.71" ry="12.95" class="ring"/>
<ellipse rx="29.43" ry="25.9" class="ring"/>
<ellipse rx="44.14" ry="38.85" class="ring"/>
<ellipse rx="58.85" ry="51.8" class="ring"/>
<ellipse rx="73.56" ry="64.75" class="ring"/>
<ellipse rx="88.28" ry="77.7" class="ring"/>
<ellipse rx="102.99" ry="90.65" class="ring"/>
<line x1="0" y1="0" x2="0" y2="-103.6" class="rad"/>
<line x1="0" y1="0" x2="45.04" y2="-95.71" class="rad"/>
<line x1="0" y1="0" x2="83.23" y2="-73.26" class="rad"/>
<line x1="0" y1="0" x2="108.74" y2="-39.65" class="rad"/>
<line x1="0" y1="0" x2="117.7" y2="-0" class="rad"/>
<line x1="0" y1="0" x2="108.74" y2="39.65" class="rad"/>
<line x1="0" y1="0" x2="83.23" y2="73.26" class="rad"/>
<line x1="0" y1="0" x2="45.04" y2="95.71" class="rad"/>
<line x1="0" y1="0" x2="0" y2="103.6" class="rad"/>
<line x1="0" y1="0" x2="-45.04" y2="95.71" class="rad"/>
<line x1="0" y1="0" x2="-83.23" y2="73.26" class="rad"/>
<line x1="0" y1="0" x2="-108.74" y2="39.65" class="rad"/>
<line x1="0" y1="0" x2="-117.7" y2="0" class="rad"/>
<line x1="0" y1="0" x2="-108.74" y2="-39.65" class="rad"/>
<line x1="0" y1="0" x2="-83.23" y2="-73.26" class="rad"/>
<line x1="0" y1="0" x2="-45.04" y2="-95.71" class="rad"/>
</g>
<ellipse rx="117.7" ry="103.6" class="outer"/>
<line x1="0" y1="-103.6" x2="0" y2="-99.3" class="tick"/>
<line x1="22.96" y1="-101.61" x2="22.3" y2="-98.68" class="tick"/>
<line x1="45.04" y1="-95.71" x2="43.21" y2="-91.82" class="tick"/>
<line x1="65.39" y1="-86.14" x2="63.58" y2="-83.75" class="tick"/>
<line x1="83.23" y1="-73.26" x2="80" y2="-70.42" class="tick"/>
<line x1="97.86" y1="-57.56" x2="95.28" y2="-56.04" class="tick"/>
<line x1="108.74" y1="-39.65" x2="104.7" y2="-38.17" class="tick"/>
<line x1="115.44" y1="-20.21" x2="112.48" y2="-19.69" class="tick"/>
<line x1="117.7" y1="-0" x2="113.4" y2="-0" class="tick"/>
<line x1="115.44" y1="20.21" x2="112.48" y2="19.69" class="tick"/>
<line x1="108.74" y1="39.65" x2="104.7" y2="38.17" class="tick"/>
<line x1="97.86" y1="57.56" x2="95.28" y2="56.04" class="tick"/>
<line x1="83.23" y1="73.26" x2="80" y2="70.42" class="tick"/>
<line x1="65.39" y1="86.14" x2="63.58" y2="83.75" class="tick"/>
<line x1="45.04" y1="95.71" x2="43.21" y2="91.82" class="tick"/>
<line x1="22.96" y1="101.61" x2="22.3" y2="98.68" class="tick"/>
<line x1="0" y1="103.6" x2="0" y2="99.3" class="tick"/>
<line x1="-22.96" y1="101.61" x2="-22.3" y2="98.68" class="tick"/>
<line x1="-45.04" y1="95.71" x2="-43.21" y2="91.82" class="tick"/>
<line x1="-65.39" y1="86.14" x2="-63.58" y2="83.75" class="tick"/>
<line x1="-83.23" y1="73.26" x2="-80" y2="70.42" class="tick"/>
<line x1="-97.86" y1="57.56" x2="-95.28" y2="56.04" class="tick"/>
<line x1="-108.74" y1="39.65" x2="-104.7" y2="38.17" class="tick"/>
<line x1="-115.44" y1="20.21" x2="-112.48" y2="19.69" class="tick"/>
<line x1="-117.7" y1="0" x2="-113.4" y2="0" class="tick"/>
<line x1="-115.44" y1="-20.21" x2="-112.48" y2="-19.69" class="tick"/>
<line x1="-108.74" y1="-39.65" x2="-104.7" y2="-38.17" class="tick"/>
<line x1="-97.86" y1="-57.56" x2="-95.28" y2="-56.04" class="tick"/>
<line x1="-83.23" y1="-73.26" x2="-80" y2="-70.42" class="tick"/>
<line x1="-65.39" y1="-86.14" x2="-63.58" y2="-83.75" class="tick"/>
<line x1="-45.04" y1="-95.71" x2="-43.21" y2="-91.82" class="tick"/>
<line x1="-22.96" y1="-101.61" x2="-22.3" y2="-98.68" class="tick"/>
<g transform="translate(0,0)">
<polygon points="-0.84,-7.47 -0.42,-7.5 0,-7.51 0.42,-7.5 0.84,-7.47 0,0" fill="#000000" class="bar"/>
<polygon points="-3.09,-27.58 -1.54,-27.68 0,-27.71 1.54,-27.68 3.09,-27.58 0.84,-7.47 0.42,-7.5 0,-7.51 -0.42,-7.5 -0.84,-7.47" fill="#ffff00" class="bar"/>
<polygon points="-3.5,-31.32 -1.75,-31.43 0,-31.47 1.75,-31.43 3.5,-31.32 3.09,-27.58 1.54,-27.68 0,-27.71 -1.54,-27.68 -3.09,-27.58" fill="#ff0000" class="bar"/>
<polygon points="-3.59,-32.09 -1.8,-32.21 0,-32.25 1.8,-32.21 3.59,-32.09 3.5,-31.32 1.75,-31.43 0,-31.47 -1.75,-31.43 -3.5,-31.32" fill="#101030" class="bar"/>
<polygon points="3.13,-9.09 3.64,-8.95 4.13,-8.78 4.61,-8.59 5.09,-8.38 0,0" fill="#000000" class="bar"/>
<polygon points="10.09,-29.27 11.71,-28.8 13.3,-28.26 14.86,-27.65 16.38,-26.97 5.09,-8.38 4.61,-8.59 4.13,-8.78 3.64,-8.95 3.13,-9.09" fill="#ffff00" class="bar"/>
<polygon points="13.56,-39.36 15.74,-38.72 17.88,-38 19.98,-37.18 22.03,-36.27 16.38,-26.97 14.86,-27.65 13.3,-28.26 11.71,-28.8 10.09,-29.27" fill="#ff0000" class="bar"/>
<polygon points="13.91,-40.35 16.14,-39.7 18.33,-38.96 20.48,-38.12 22.58,-37.19 22.03,-36.27 19.98,-37.18 17.88,-38 15.74,-38.72 13.56,-39.36" fill="#0000ff" class="bar"/>
<polygon points="7.5,-8.05 7.94,-7.71 8.36,-7.36 8.76,-6.99 9.14,-6.61 0,0" fill="#000000" class="bar"/>
<polygon points="22.32,-23.94 23.63,-22.95 24.88,-21.9 26.07,-20.8 27.2,-19.65 9.14,-6.61 8.76,-6.99 8.36,-7.36 7.94,-7.71 7.5,-8.05" fill="#ffff00" class="bar"/>
<polygon points="28.14,-30.18 29.79,-28.93 31.37,-27.61 32.87,-26.22 34.29,-24.77 27.2,-19.65 26.07,-20.8 24.88,-21.9 23.63,-22.95 22.32,-23.94" fill="#ff0000" class="bar"/>
<polygon points="16.17,-7.61 16.57,-6.9 16.94,-6.18 17.26,-5.44 17.55,-4.68 0,0" fill="#000000" class="bar"/>
<polygon points="56.46,-26.57 57.88,-24.09 59.15,-21.57 60.28,-18.99 61.27,-16.36 17.55,-4.68 17.26,-5.44 16.94,-6.18 16.57,-6.9 16.17,-7.61" fill="#ffff00" class="bar"/>
<polygon points="65.2,-30.68 66.83,-27.82 68.3,-24.9 69.61,-21.92 70.75,-18.89 61.27,-16.36 60.28,-18.99 59.15,-21.57 57.88,-24.09 56.46,-26.57" fill="#ff0000" class="bar"/>
<polygon points="66.24,-31.17 67.9,-28.27 69.4,-25.3 70.72,-22.27 71.88,-19.19 70.75,-18.89 69.61,-21.92 68.3,-24.9 66.83,-27.82 65.2,-30.68" fill="#0000ff" class="bar"/>
<polygon points="15.23,-1.32 15.28,-0.66 15.3,-0 15.28,0.66 15.23,1.32 0,0" fill="#000000" class="bar"/>
<polygon points="47,-4.07 47.17,-2.04 47.23,-0 47.17,2.04 47,4.07 15.23,1.32 15.28,0.66 15.3,-0 15.28,-0.66 15.23,-1.32" fill="#ffff00" class="bar"/>
<polygon points="52.71,-4.57 52.9,-2.29 52.97,-0 52.9,2.29 52.71,4.57 47,4.07 47.17,2.04 47.23,-0 47.17,-2.04 47,-4.07" fill="#ff0000" class="bar"/>
<polygon points="54.17,-4.7 54.37,-2.35 54.44,-0 54.37,2.35 54.17,4.7 52.71,4.57 52.9,2.29 52.97,-0 52.9,-2.29 52.71,-4.57" fill="#0000ff" class="bar"/>
<polygon points="12.59,3.36 12.39,3.9 12.16,4.43 11.9,4.95 11.61,5.46 0,0" fill="#000000" class="bar"/>
<polygon points="30.7,8.2 30.21,9.51 29.64,10.81 29.01,12.08 28.3,13.31 11.61,5.46 11.9,4.95 12.16,4.43 12.39,3.9 12.59,3.36" fill="#ffff00" class="bar"/>
<polygon points="44,11.75 43.3,13.64 42.48,15.49 41.57,17.31 40.55,19.08 28.3,13.31 29.01,12.08 29.64,10.81 30.21,9.51 30.7,8.2" fill="#ff0000" class="bar"/>
<polygon points="46.41,12.39 45.66,14.38 44.81,16.34 43.84,18.25 42.77,20.12 40.55,19.08 41.57,17.31 42.48,15.49 43.3,13.64 44,11.75" fill="#0000ff" class="bar"/>
<polygon points="8.57,6.19 8.22,6.56 7.84,6.9 7.45,7.23 7.04,7.55 0,0" fill="#000000" class="bar"/>
<polygon points="20.57,14.86 19.72,15.73 18.82,16.57 17.87,17.36 16.88,18.11 7.04,7.55 7.45,7.23 7.84,6.9 8.22,6.56 8.57,6.19" fill="#ffff00" class="bar"/>
<polygon points="25.95,18.74 24.87,19.84 23.73,20.89 22.54,21.89 21.29,22.84 16.88,18.11 17.87,17.36 18.82,16.57 19.72,15.73 20.57,14.86" fill="#ff0000" class="bar"/>
<polygon points="28.12,20.31 26.95,21.5 25.72,22.64 24.43,23.72 23.08,24.75 21.29,22.84 22.54,21.89 23.73,20.89 24.87,19.84 25.95,18.74" fill="#0000ff" class="bar"/>
<polygon points="-4.41,4.73 -4.67,4.53 -4.91,4.33 -5.15,4.11 -5.37,3.88 0,0" fill="#000000" class="bar"/>
<polygon points="-9.47,10.16 -10.03,9.74 -10.56,9.29 -11.07,8.83 -11.54,8.34 -5.37,3.88 -5.15,4.11 -4.91,4.33 -4.67,4.53 -4.41,4.73" fill="#ffff00" class="bar"/>
<polygon points="-13.51,14.49 -14.3,13.89 -15.06,13.25 -15.78,12.59 -16.46,11.89 -11.54,8.34 -11.07,8.83 -10.56,9.29 -10.03,9.74 -9.47,10.16" fill="#ff0000" class="bar"/>
<polygon points="-14.91,16 -15.79,15.33 -16.62,14.63 -17.42,13.9 -18.17,13.13 -16.46,11.89 -15.78,12.59 -15.06,13.25 -14.3,13.89 -13.51,14.49" fill="#0000ff" class="bar"/>
<polygon points="-10.56,4.97 -10.83,4.51 -11.07,4.03 -11.28,3.55 -11.46,3.06 0,0" fill="#000000" class="bar"/>
<polygon points="-49.55,23.31 -50.79,21.15 -51.91,18.93 -52.9,16.66 -53.77,14.36 -11.46,3.06 -11.28,3.55 -11.07,4.03 -10.83,4.51 -10.56,4.97" fill="#ffff00" class="bar"/>
<polygon points="-64.94,30.55 -66.56,27.71 -68.03,24.8 -69.33,21.83 -70.46,18.81 -53.77,14.36 -52.9,16.66 -51.91,18.93 -50.79,21.15 -49.55,23.31" fill="#ff0000" class="bar"/>
<polygon points="-70.03,32.95 -71.78,29.88 -73.36,26.75 -74.76,23.54 -75.98,20.29 -70.46,18.81 -69.33,21.83 -68.03,24.8 -66.56,27.71 -64.94,30.55" fill="#0000ff" class="bar"/>
<polygon points="-18.45,1.6 -18.52,0.8 -18.54,0 -18.52,-0.8 -18.45,-1.6 0,0" fill="#000000" class="bar"/>
<polygon points="-55.49,4.81 -55.69,2.41 -55.76,0 -55.69,-2.41 -55.49,-4.81 -18.45,-1.6 -18.52,-0.8 -18.54,0 -18.52,0.8 -18.45,1.6" fill="#ffff00" class="bar"/>
<polygon points="-83.46,7.24 -83.76,3.62 -83.86,0 -83.76,-3.62 -83.46,-7.24 -55.49,-4.81 -55.69,-2.41 -55.76,0 -55.69,2.41 -55.49,4.81" fill="#ff0000" class="bar"/>
<polygon points="-102.35,8.87 -102.72,4.44 -102.84,0 -102.72,-4.44 -102.35,-8.87 -83.46,-7.24 -83.76,-3.62 -83.86,0 -83.76,3.62 -83.46,7.24" fill="#0000ff" class="bar"/>
<polygon points="-105.27,9.13 -105.66,4.57 -105.78,0 -105.66,-4.57 -105.27,-9.13 -102.35,-8.87 -102.72,-4.44 -102.84,0 -102.72,4.44 -102.35,8.87" fill="#008000" class="bar"/>
<polygon points="-106.15,9.2 -106.54,4.61 -106.67,0 -106.54,-4.61 -106.15,-9.2 -105.27,-9.13 -105.66,-4.57 -105.78,0 -105.66,4.57 -105.27,9.13" fill="#00ffff" class="bar"/>
<polygon points="-15.99,-4.27 -15.73,-4.95 -15.44,-5.63 -15.1,-6.29 -14.74,-6.93 0,0" fill="#000000" class="bar"/>
<polygon points="-41.03,-10.96 -40.37,-12.72 -39.62,-14.44 -38.76,-16.14 -37.82,-17.79 -14.74,-6.93 -15.1,-6.29 -15.44,-5.63 -15.73,-4.95 -15.99,-4.27" fill="#ffff00" class="bar"/>
<polygon points="-64.52,-17.23 -63.48,-19.99 -62.29,-22.71 -60.95,-25.37 -59.46,-27.98 -37.82,-17.79 -38.76,-16.14 -39.62,-14.44 -40.37,-12.72 -41.03,-10.96" fill="#ff0000" class="bar"/>
<polygon points="-72.02,-19.23 -70.86,-22.32 -69.53,-25.35 -68.04,-28.32 -66.37,-31.23 -59.46,-27.98 -60.95,-25.37 -62.29,-22.71 -63.48,-19.99 -64.52,-17.23" fill="#0000ff" class="bar"/>
<polygon points="-78.39,-20.93 -77.13,-24.29 -75.68,-27.59 -74.05,-30.83 -72.24,-33.99 -66.37,-31.23 -68.04,-28.32 -69.53,-25.35 -70.86,-22.32 -72.02,-19.23" fill="#008000" class="bar"/>
<polygon points="-79.1,-21.12 -77.82,-24.51 -76.36,-27.84 -74.72,-31.11 -72.89,-34.3 -72.24,-33.99 -74.05,-30.83 -75.68,-27.59 -77.13,-24.29 -78.39,-20.93" fill="#00ffff" class="bar"/>
<polygon points="-6.29,-4.54 -6.03,-4.81 -5.75,-5.06 -5.46,-5.3 -5.16,-5.53 0,0" fill="#000000" class="bar"/>
<polygon points="-24.23,-17.5 -23.23,-18.53 -22.17,-19.51 -21.05,-20.44 -19.89,-21.33 -5.16,-5.53 -5.46,-5.3 -5.75,-5.06 -6.03,-4.81 -6.29,-4.54" fill="#ffff00" class="bar"/>
<polygon points="-39.09,-28.24 -37.47,-29.89 -35.76,-31.47 -33.96,-32.98 -32.08,-34.41 -19.89,-21.33 -21.05,-20.44 -22.17,-19.51 -23.23,-18.53 -24.23,-17.5" fill="#ff0000" class="bar"/>
<polygon points="-44.35,-32.04 -42.51,-33.91 -40.57,-35.71 -38.53,-37.42 -36.4,-39.03 -32.08,-34.41 -33.96,-32.98 -35.76,-31.47 -37.47,-29.89 -39.09,-28.24" fill="#0000ff" class="bar"/>
<polygon points="-4.18,-6.89 -3.79,-7.06 -3.4,-7.21 -2.99,-7.35 -2.58,-7.47 0,0" fill="#000000" class="bar"/>
<polygon points="-12.76,-21 -11.57,-21.53 -10.35,-22 -9.12,-22.42 -7.85,-22.79 -2.58,-7.47 -2.99,-7.35 -3.4,-7.21 -3.79,-7.06 -4.18,-6.89" fill="#ffff00" class="bar"/>
<polygon points="-14.99,-24.68 -13.59,-25.3 -12.17,-25.85 -10.71,-26.35 -9.23,-26.78 -7.85,-22.79 -9.12,-22.42 -10.35,-22 -11.57,-21.53 -12.76,-21" fill="#ff0000" class="bar"/>
<polygon points="-15.4,-25.37 -13.97,-26 -12.51,-26.57 -11.01,-27.08 -9.49,-27.52 -9.23,-26.78 -10.71,-26.35 -12.17,-25.85 -13.59,-25.3 -14.99,-24.68" fill="#101030" class="bar"/>
</g>
<text x="0.1" y="-111.6" text-anchor="middle" class="lab" textLength="6.6" lengthAdjust="spacingAndGlyphs">N</text>
<text x="39.6" y="-102.2" text-anchor="start" class="lab" textLength="18.4" lengthAdjust="spacingAndGlyphs">NNE</text>
<text x="83.1" y="-77.5" text-anchor="start" class="lab" textLength="11.9" lengthAdjust="spacingAndGlyphs">NE</text>
<text x="112.5" y="-40.9" text-anchor="start" class="lab" textLength="17.5" lengthAdjust="spacingAndGlyphs">ENE</text>
<text x="122.7" y="2.4" text-anchor="start" class="lab" textLength="6" lengthAdjust="spacingAndGlyphs">E</text>
<text x="112.6" y="45.9" text-anchor="start" class="lab" textLength="17.2" lengthAdjust="spacingAndGlyphs">ESE</text>
<text x="83.25" y="82.55" text-anchor="start" class="lab" textLength="11.4" lengthAdjust="spacingAndGlyphs">SE</text>
<text x="39.5" y="107.4" text-anchor="start" class="lab" textLength="17.5" lengthAdjust="spacingAndGlyphs">SSE</text>
<text x="0.4" y="115.2" text-anchor="middle" class="lab" textLength="6" lengthAdjust="spacingAndGlyphs">S</text>
<text x="-43.3" y="107" text-anchor="end" class="lab" textLength="20.8" lengthAdjust="spacingAndGlyphs">SSW</text>
<text x="-93.25" y="82.5" text-anchor="end" class="lab" textLength="14.3" lengthAdjust="spacingAndGlyphs">SW</text>
<text x="-113.3" y="45.8" text-anchor="end" class="lab" textLength="23.4" lengthAdjust="spacingAndGlyphs">WSW</text>
<text x="-122" y="2.4" text-anchor="end" class="lab" textLength="9.2" lengthAdjust="spacingAndGlyphs">W</text>
<text x="-113" y="-40.9" text-anchor="end" class="lab" textLength="24.1" lengthAdjust="spacingAndGlyphs">WNW</text>
<text x="-92.7" y="-77.6" text-anchor="end" class="lab" textLength="14.85" lengthAdjust="spacingAndGlyphs">NW</text>
<text x="-42.1" y="-101.9" text-anchor="end" class="lab" textLength="22.2" lengthAdjust="spacingAndGlyphs">NNW</text>
</g>
<text x="80.4" y="283.3" class="title" textLength="151.9" lengthAdjust="spacingAndGlyphs">Wind rose (Monsoon Season)</text>
<rect x="297.4" y="281.3" width="36.7" height="82.3" class="lbox"/>
<rect x="299.5" y="289.5" width="15.5" height="6.9" fill="#808000" class="sw"/>
<text x="317.7" y="295.7" class="lt" style="font-size:7.3px" transform="translate(317.7,0) scale(0.98,1) translate(-317.7,0)">&gt;= 7</text>
<rect x="299.5" y="298.02" width="15.5" height="6.9" fill="#ff00ff" class="sw"/>
<text x="317.7" y="304.22" class="lt" style="font-size:7.3px" transform="translate(317.7,0) scale(0.98,1) translate(-317.7,0)">6 - 7</text>
<rect x="299.5" y="306.54" width="15.5" height="6.9" fill="#00ffff" class="sw"/>
<text x="317.7" y="312.74" class="lt" style="font-size:7.3px" transform="translate(317.7,0) scale(0.98,1) translate(-317.7,0)">5 - 6</text>
<rect x="299.5" y="315.06" width="15.5" height="6.9" fill="#008000" class="sw"/>
<text x="317.7" y="321.26" class="lt" style="font-size:7.3px" transform="translate(317.7,0) scale(0.98,1) translate(-317.7,0)">4 - 5</text>
<rect x="299.5" y="323.58" width="15.5" height="6.9" fill="#0000ff" class="sw"/>
<text x="317.7" y="329.78" class="lt" style="font-size:7.3px" transform="translate(317.7,0) scale(0.98,1) translate(-317.7,0)">3 - 4</text>
<rect x="299.5" y="332.1" width="15.5" height="6.9" fill="#ff0000" class="sw"/>
<text x="317.7" y="338.3" class="lt" style="font-size:7.3px" transform="translate(317.7,0) scale(0.98,1) translate(-317.7,0)">2 - 3</text>
<rect x="299.5" y="340.62" width="15.5" height="6.9" fill="#ffff00" class="sw"/>
<text x="317.7" y="346.82" class="lt" style="font-size:7.3px" transform="translate(317.7,0) scale(0.98,1) translate(-317.7,0)">1 - 2</text>
<rect x="299.5" y="349.14" width="15.5" height="6.9" fill="#000000" class="sw"/>
<text x="317.7" y="355.34" class="lt" style="font-size:7.3px" transform="translate(317.7,0) scale(0.98,1) translate(-317.7,0)">0 - 1</text>
<g transform="translate(496.4,417.35) scale(0.9762,1.0714)">
<g transform="translate(-0.3,0)">
<ellipse rx="9.05" ry="7.97" class="ring"/>
<ellipse rx="18.11" ry="15.94" class="ring"/>
<ellipse rx="27.16" ry="23.91" class="ring"/>
<ellipse rx="36.22" ry="31.88" class="ring"/>
<ellipse rx="45.27" ry="39.85" class="ring"/>
<ellipse rx="54.32" ry="47.82" class="ring"/>
<ellipse rx="63.38" ry="55.78" class="ring"/>
<ellipse rx="72.43" ry="63.75" class="ring"/>
<ellipse rx="81.48" ry="71.72" class="ring"/>
<ellipse rx="90.54" ry="79.69" class="ring"/>
<ellipse rx="99.59" ry="87.66" class="ring"/>
<ellipse rx="108.65" ry="95.63" class="ring"/>
<line x1="0" y1="0" x2="0" y2="-103.6" class="rad"/>
<line x1="0" y1="0" x2="45.04" y2="-95.71" class="rad"/>
<line x1="0" y1="0" x2="83.23" y2="-73.26" class="rad"/>
<line x1="0" y1="0" x2="108.74" y2="-39.65" class="rad"/>
<line x1="0" y1="0" x2="117.7" y2="-0" class="rad"/>
<line x1="0" y1="0" x2="108.74" y2="39.65" class="rad"/>
<line x1="0" y1="0" x2="83.23" y2="73.26" class="rad"/>
<line x1="0" y1="0" x2="45.04" y2="95.71" class="rad"/>
<line x1="0" y1="0" x2="0" y2="103.6" class="rad"/>
<line x1="0" y1="0" x2="-45.04" y2="95.71" class="rad"/>
<line x1="0" y1="0" x2="-83.23" y2="73.26" class="rad"/>
<line x1="0" y1="0" x2="-108.74" y2="39.65" class="rad"/>
<line x1="0" y1="0" x2="-117.7" y2="0" class="rad"/>
<line x1="0" y1="0" x2="-108.74" y2="-39.65" class="rad"/>
<line x1="0" y1="0" x2="-83.23" y2="-73.26" class="rad"/>
<line x1="0" y1="0" x2="-45.04" y2="-95.71" class="rad"/>
</g>
<ellipse rx="117.7" ry="103.6" class="outer"/>
<line x1="0" y1="-103.6" x2="0" y2="-99.3" class="tick"/>
<line x1="22.96" y1="-101.61" x2="22.3" y2="-98.68" class="tick"/>
<line x1="45.04" y1="-95.71" x2="43.21" y2="-91.82" class="tick"/>
<line x1="65.39" y1="-86.14" x2="63.58" y2="-83.75" class="tick"/>
<line x1="83.23" y1="-73.26" x2="80" y2="-70.42" class="tick"/>
<line x1="97.86" y1="-57.56" x2="95.28" y2="-56.04" class="tick"/>
<line x1="108.74" y1="-39.65" x2="104.7" y2="-38.17" class="tick"/>
<line x1="115.44" y1="-20.21" x2="112.48" y2="-19.69" class="tick"/>
<line x1="117.7" y1="-0" x2="113.4" y2="-0" class="tick"/>
<line x1="115.44" y1="20.21" x2="112.48" y2="19.69" class="tick"/>
<line x1="108.74" y1="39.65" x2="104.7" y2="38.17" class="tick"/>
<line x1="97.86" y1="57.56" x2="95.28" y2="56.04" class="tick"/>
<line x1="83.23" y1="73.26" x2="80" y2="70.42" class="tick"/>
<line x1="65.39" y1="86.14" x2="63.58" y2="83.75" class="tick"/>
<line x1="45.04" y1="95.71" x2="43.21" y2="91.82" class="tick"/>
<line x1="22.96" y1="101.61" x2="22.3" y2="98.68" class="tick"/>
<line x1="0" y1="103.6" x2="0" y2="99.3" class="tick"/>
<line x1="-22.96" y1="101.61" x2="-22.3" y2="98.68" class="tick"/>
<line x1="-45.04" y1="95.71" x2="-43.21" y2="91.82" class="tick"/>
<line x1="-65.39" y1="86.14" x2="-63.58" y2="83.75" class="tick"/>
<line x1="-83.23" y1="73.26" x2="-80" y2="70.42" class="tick"/>
<line x1="-97.86" y1="57.56" x2="-95.28" y2="56.04" class="tick"/>
<line x1="-108.74" y1="39.65" x2="-104.7" y2="38.17" class="tick"/>
<line x1="-115.44" y1="20.21" x2="-112.48" y2="19.69" class="tick"/>
<line x1="-117.7" y1="0" x2="-113.4" y2="0" class="tick"/>
<line x1="-115.44" y1="-20.21" x2="-112.48" y2="-19.69" class="tick"/>
<line x1="-108.74" y1="-39.65" x2="-104.7" y2="-38.17" class="tick"/>
<line x1="-97.86" y1="-57.56" x2="-95.28" y2="-56.04" class="tick"/>
<line x1="-83.23" y1="-73.26" x2="-80" y2="-70.42" class="tick"/>
<line x1="-65.39" y1="-86.14" x2="-63.58" y2="-83.75" class="tick"/>
<line x1="-45.04" y1="-95.71" x2="-43.21" y2="-91.82" class="tick"/>
<line x1="-22.96" y1="-101.61" x2="-22.3" y2="-98.68" class="tick"/>
<g transform="translate(-0.3,0)">
<polygon points="-6.5,-58.05 -3.25,-58.26 0,-58.33 3.25,-58.26 6.5,-58.05 0,0" fill="#000000" class="bar"/>
<polygon points="-10.33,-92.32 -5.17,-92.65 0,-92.76 5.17,-92.65 10.33,-92.32 6.5,-58.05 3.25,-58.26 0,-58.33 -3.25,-58.26 -6.5,-58.05" fill="#ffff00" class="bar"/>
<polygon points="16.35,-47.44 18.97,-46.68 21.55,-45.8 24.08,-44.82 26.55,-43.72 0,0" fill="#000000" class="bar"/>
<polygon points="30.3,-87.91 35.16,-86.49 39.94,-84.87 44.62,-83.04 49.2,-81.02 26.55,-43.72 24.08,-44.82 21.55,-45.8 18.97,-46.68 16.35,-47.44" fill="#ffff00" class="bar"/>
<polygon points="29.21,-31.33 30.92,-30.03 32.56,-28.66 34.11,-27.22 35.59,-25.71 0,0" fill="#000000" class="bar"/>
<polygon points="66.21,-71.01 70.09,-68.07 73.8,-64.96 77.33,-61.69 80.68,-58.28 35.59,-25.71 34.11,-27.22 32.56,-28.66 30.92,-30.03 29.21,-31.33" fill="#ffff00" class="bar"/>
<polygon points="68.35,-73.3 72.35,-70.26 76.18,-67.05 79.83,-63.68 83.28,-60.16 80.68,-58.28 77.33,-61.69 73.8,-64.96 70.09,-68.07 66.21,-71.01" fill="#ff0000" class="bar"/>
<polygon points="30.65,-14.42 31.42,-13.08 32.11,-11.71 32.73,-10.31 33.26,-8.88 0,0" fill="#000000" class="bar"/>
<polygon points="84.1,-39.57 86.2,-35.89 88.1,-32.12 89.78,-28.28 91.25,-24.37 33.26,-8.88 32.73,-10.31 32.11,-11.71 31.42,-13.08 30.65,-14.42" fill="#ffff00" class="bar"/>
<polygon points="88.67,-41.72 90.89,-37.84 92.89,-33.87 94.67,-29.81 96.22,-25.69 91.25,-24.37 89.78,-28.28 88.1,-32.12 86.2,-35.89 84.1,-39.57" fill="#ff0000" class="bar"/>
<polygon points="20.99,-1.82 21.07,-0.91 21.1,-0 21.07,0.91 20.99,1.82 0,0" fill="#000000" class="bar"/>
<polygon points="72.26,-6.26 72.52,-3.14 72.61,-0 72.52,3.14 72.26,6.26 20.99,1.82 21.07,0.91 21.1,-0 21.07,-0.91 20.99,-1.82" fill="#ffff00" class="bar"/>
<polygon points="75.87,-6.58 76.14,-3.29 76.23,-0 76.14,3.29 75.87,6.58 72.26,6.26 72.52,3.14 72.61,-0 72.52,-3.14 72.26,-6.26" fill="#ff0000" class="bar"/>
<polygon points="8.53,2.28 8.4,2.64 8.24,3 8.06,3.36 7.86,3.7 0,0" fill="#000000" class="bar"/>
<polygon points="32.04,8.56 31.53,9.93 30.94,11.28 30.27,12.6 29.53,13.89 7.86,3.7 8.06,3.36 8.24,3 8.4,2.64 8.53,2.28" fill="#ffff00" class="bar"/>
<polygon points="37.88,10.11 37.27,11.74 36.57,13.33 35.78,14.9 34.91,16.42 29.53,13.89 30.27,12.6 30.94,11.28 31.53,9.93 32.04,8.56" fill="#ff0000" class="bar"/>
<polygon points="39.1,10.44 38.47,12.11 37.75,13.76 36.93,15.38 36.03,16.95 34.91,16.42 35.78,14.9 36.57,13.33 37.27,11.74 37.88,10.11" fill="#0000ff" class="bar"/>
<polygon points="4.22,3.05 4.05,3.23 3.86,3.4 3.67,3.56 3.46,3.71 0,0" fill="#000000" class="bar"/>
<polygon points="15.69,11.33 15.03,11.99 14.35,12.63 13.63,13.23 12.87,13.81 3.46,3.71 3.67,3.56 3.86,3.4 4.05,3.23 4.22,3.05" fill="#ffff00" class="bar"/>
<polygon points="21.1,15.24 20.23,16.14 19.3,16.99 18.33,17.8 17.32,18.57 12.87,13.81 13.63,13.23 14.35,12.63 15.03,11.99 15.69,11.33" fill="#ff0000" class="bar"/>
<polygon points="22.51,16.26 21.57,17.21 20.59,18.12 19.55,18.99 18.47,19.81 17.32,18.57 18.33,17.8 19.3,16.99 20.23,16.14 21.1,15.24" fill="#0000ff" class="bar"/>
<polygon points="23.7,17.12 22.72,18.13 21.68,19.09 20.59,20 19.45,20.86 18.47,19.81 19.55,18.99 20.59,18.12 21.57,17.21 22.51,16.26" fill="#008000" class="bar"/>
<polygon points="-9.76,10.46 -10.33,10.03 -10.87,9.57 -11.39,9.09 -11.89,8.59 0,0" fill="#000000" class="bar"/>
<polygon points="-15.24,16.34 -16.13,15.67 -16.99,14.95 -17.8,14.2 -18.57,13.41 -11.89,8.59 -11.39,9.09 -10.87,9.57 -10.33,10.03 -9.76,10.46" fill="#ffff00" class="bar"/>
<polygon points="-20.14,9.48 -20.65,8.6 -21.1,7.69 -21.5,6.77 -21.86,5.84 0,0" fill="#000000" class="bar"/>
<polygon points="-39.96,18.8 -40.96,17.05 -41.86,15.26 -42.66,13.44 -43.36,11.58 -21.86,5.84 -21.5,6.77 -21.1,7.69 -20.65,8.6 -20.14,9.48" fill="#ffff00" class="bar"/>
<polygon points="-44.3,20.84 -45.4,18.9 -46.4,16.92 -47.29,14.89 -48.06,12.83 -43.36,11.58 -42.66,13.44 -41.86,15.26 -40.96,17.05 -39.96,18.8" fill="#ff0000" class="bar"/>
<polygon points="-42.35,3.67 -42.5,1.84 -42.55,0 -42.5,-1.84 -42.35,-3.67 0,0" fill="#000000" class="bar"/>
<polygon points="-72.26,6.26 -72.52,3.14 -72.61,0 -72.52,-3.14 -72.26,-6.26 -42.35,-3.67 -42.5,-1.84 -42.55,0 -42.5,1.84 -42.35,3.67" fill="#ffff00" class="bar"/>
<polygon points="-80.01,6.94 -80.3,3.47 -80.4,0 -80.3,-3.47 -80.01,-6.94 -72.26,-6.26 -72.52,-3.14 -72.61,0 -72.52,3.14 -72.26,6.26" fill="#ff0000" class="bar"/>
<polygon points="-32.83,-8.76 -32.3,-10.17 -31.69,-11.55 -31.01,-12.91 -30.25,-14.23 0,0" fill="#000000" class="bar"/>
<polygon points="-50.15,-13.39 -49.35,-15.54 -48.42,-17.65 -47.38,-19.72 -46.22,-21.75 -30.25,-14.23 -31.01,-12.91 -31.69,-11.55 -32.3,-10.17 -32.83,-8.76" fill="#ffff00" class="bar"/>
<polygon points="-58.77,-15.69 -57.83,-18.21 -56.74,-20.69 -55.52,-23.11 -54.17,-25.48 -46.22,-21.75 -47.38,-19.72 -48.42,-17.65 -49.35,-15.54 -50.15,-13.39" fill="#ff0000" class="bar"/>
<polygon points="-59.65,-15.93 -58.69,-18.48 -57.58,-20.99 -56.34,-23.46 -54.97,-25.86 -54.17,-25.48 -55.52,-23.11 -56.74,-20.69 -57.83,-18.21 -58.77,-15.69" fill="#0000ff" class="bar"/>
<polygon points="-24.62,-17.78 -23.6,-18.82 -22.52,-19.82 -21.39,-20.77 -20.2,-21.67 0,0" fill="#000000" class="bar"/>
<polygon points="-39.53,-28.55 -37.89,-30.23 -36.16,-31.83 -34.34,-33.35 -32.44,-34.79 -20.2,-21.67 -21.39,-20.77 -22.52,-19.82 -23.6,-18.82 -24.62,-17.78" fill="#ffff00" class="bar"/>
<polygon points="-42.2,-30.49 -40.45,-32.27 -38.6,-33.98 -36.66,-35.61 -34.63,-37.15 -32.44,-34.79 -34.34,-33.35 -36.16,-31.83 -37.89,-30.23 -39.53,-28.55" fill="#ff0000" class="bar"/>
<polygon points="-22.09,-36.38 -20.04,-37.29 -17.93,-38.11 -15.79,-38.84 -13.6,-39.47 0,0" fill="#000000" class="bar"/>
<polygon points="-30.03,-49.44 -27.23,-50.68 -24.37,-51.8 -21.46,-52.79 -18.49,-53.65 -13.6,-39.47 -15.79,-38.84 -17.93,-38.11 -20.04,-37.29 -22.09,-36.38" fill="#ffff00" class="bar"/>
<polygon points="-30.28,-49.87 -27.47,-51.12 -24.58,-52.24 -21.64,-53.24 -18.65,-54.11 -18.49,-53.65 -21.46,-52.79 -24.37,-51.8 -27.23,-50.68 -30.03,-49.44" fill="#ff0000" class="bar"/>
</g>
<text x="0.1" y="-111.6" text-anchor="middle" class="lab" textLength="6.6" lengthAdjust="spacingAndGlyphs">N</text>
<text x="39.6" y="-102.2" text-anchor="start" class="lab" textLength="18.4" lengthAdjust="spacingAndGlyphs">NNE</text>
<text x="83.1" y="-77.5" text-anchor="start" class="lab" textLength="11.9" lengthAdjust="spacingAndGlyphs">NE</text>
<text x="112.5" y="-41.65" text-anchor="start" class="lab" textLength="17.5" lengthAdjust="spacingAndGlyphs">ENE</text>
<text x="122.7" y="2.4" text-anchor="start" class="lab" textLength="6" lengthAdjust="spacingAndGlyphs">E</text>
<text x="112.6" y="45.62" text-anchor="start" class="lab" textLength="17.2" lengthAdjust="spacingAndGlyphs">ESE</text>
<text x="83.25" y="82.55" text-anchor="start" class="lab" textLength="11.4" lengthAdjust="spacingAndGlyphs">SE</text>
<text x="39.5" y="107.4" text-anchor="start" class="lab" textLength="17.5" lengthAdjust="spacingAndGlyphs">SSE</text>
<text x="0.4" y="115.2" text-anchor="middle" class="lab" textLength="6" lengthAdjust="spacingAndGlyphs">S</text>
<text x="-43.3" y="107" text-anchor="end" class="lab" textLength="20.8" lengthAdjust="spacingAndGlyphs">SSW</text>
<text x="-94.17" y="82.5" text-anchor="end" class="lab" textLength="14.3" lengthAdjust="spacingAndGlyphs">SW</text>
<text x="-114.43" y="45.8" text-anchor="end" class="lab" textLength="23.4" lengthAdjust="spacingAndGlyphs">WSW</text>
<text x="-122.61" y="2.4" text-anchor="end" class="lab" textLength="9.2" lengthAdjust="spacingAndGlyphs">W</text>
<text x="-114.13" y="-41.55" text-anchor="end" class="lab" textLength="24.1" lengthAdjust="spacingAndGlyphs">WNW</text>
<text x="-93.62" y="-77.6" text-anchor="end" class="lab" textLength="14.85" lengthAdjust="spacingAndGlyphs">NW</text>
<text x="-42.1" y="-101.9" text-anchor="end" class="lab" textLength="22.2" lengthAdjust="spacingAndGlyphs">NNW</text>
</g>
<text x="424.8" y="278.7" class="title" textLength="173.8" lengthAdjust="spacingAndGlyphs">Wind rose (Post-Monsoon Season)</text>
<rect x="637.4" y="280.4" width="36.3" height="74.5" class="lbox"/>
<rect x="639.5" y="288.5" width="15.5" height="7" fill="#ff00ff" class="sw"/>
<text x="657.4" y="294.8" class="lt" style="font-size:7.3px" transform="translate(657.4,0) scale(0.97,1) translate(-657.4,0)">&gt;= 6</text>
<rect x="639.5" y="297.08" width="15.5" height="7" fill="#00ffff" class="sw"/>
<text x="657.4" y="303.38" class="lt" style="font-size:7.3px" transform="translate(657.4,0) scale(0.97,1) translate(-657.4,0)">5 - 6</text>
<rect x="639.5" y="305.66" width="15.5" height="7" fill="#008000" class="sw"/>
<text x="657.4" y="311.96" class="lt" style="font-size:7.3px" transform="translate(657.4,0) scale(0.97,1) translate(-657.4,0)">4 - 5</text>
<rect x="639.5" y="314.24" width="15.5" height="7" fill="#0000ff" class="sw"/>
<text x="657.4" y="320.54" class="lt" style="font-size:7.3px" transform="translate(657.4,0) scale(0.97,1) translate(-657.4,0)">3 - 4</text>
<rect x="639.5" y="322.82" width="15.5" height="7" fill="#ff0000" class="sw"/>
<text x="657.4" y="329.12" class="lt" style="font-size:7.3px" transform="translate(657.4,0) scale(0.97,1) translate(-657.4,0)">2 - 3</text>
<rect x="639.5" y="331.4" width="15.5" height="7" fill="#ffff00" class="sw"/>
<text x="657.4" y="337.7" class="lt" style="font-size:7.3px" transform="translate(657.4,0) scale(0.97,1) translate(-657.4,0)">1 - 2</text>
<rect x="639.5" y="339.98" width="15.5" height="7" fill="#000000" class="sw"/>
<text x="657.4" y="346.28" class="lt" style="font-size:7.3px" transform="translate(657.4,0) scale(0.97,1) translate(-657.4,0)">0 - 1</text>
<g fill="none">
<rect x="0" y="0" width="685" height="1" fill="#000"/>
<rect x="0" y="0" width="1.1" height="264.5" fill="#000"/>
<rect x="683.9" y="0" width="1.1" height="264.5" fill="#000"/>
<rect x="341" y="0" width="1.6" height="264.5" fill="#000"/>
<rect x="0" y="263.3" width="685" height="1.4" fill="#6e6e6e"/>
<rect x="0" y="266.9" width="685" height="1.1" fill="#222"/>
<rect x="0" y="266.9" width="1.1" height="283.1" fill="#000"/>
<rect x="683.9" y="266.9" width="1.1" height="283.1" fill="#000"/>
<rect x="341" y="266.9" width="1.6" height="283.1" fill="#000"/>
<rect x="0" y="548.9" width="685" height="1.1" fill="#000"/>
</g>
</g></svg></body></html>
